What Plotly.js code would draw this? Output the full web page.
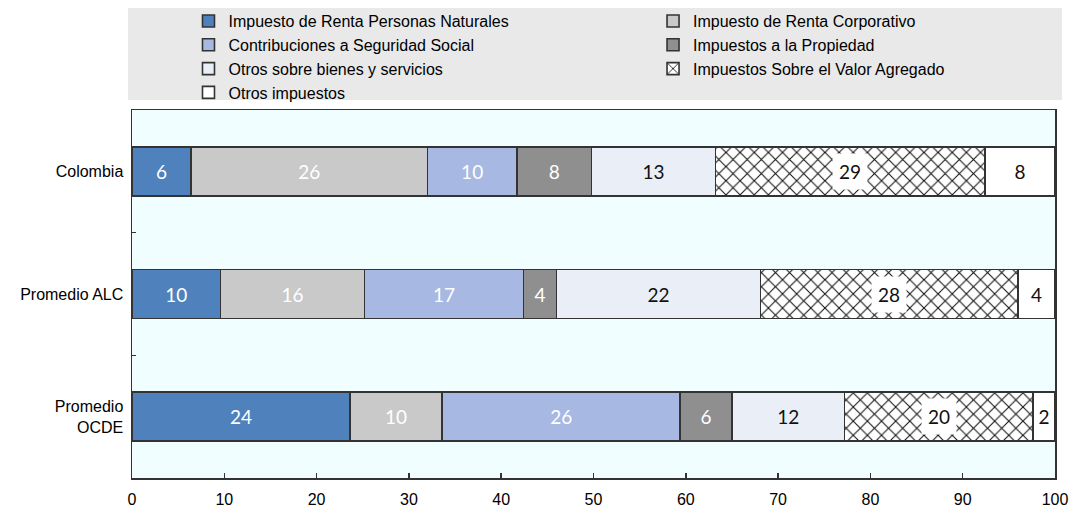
<!DOCTYPE html>
<html>
<head>
<meta charset="utf-8">
<script src="https://cdn.plot.ly/plotly-3.0.1.min.js"></script>
<style>
  html, body { margin: 0; padding: 0; background: #ffffff; }
  #chart { width: 1069px; height: 508px; }
</style>
</head>
<body>
<div id="chart"></div>
<script>
// ---- Data (share of total tax revenue, %) ----
const categories = ['Colombia', 'Promedio ALC', 'Promedio<br>OCDE'];
const seriesNames = [
  'Impuesto de Renta Personas Naturales',
  'Impuesto de Renta Corporativo',
  'Contribuciones a Seguridad Social',
  'Impuestos a la Propiedad',
  'Otros sobre bienes y servicios',
  'Impuestos Sobre el Valor Agregado',
  'Otros impuestos'
];
const rentaPersonas   = [6.4, 9.6, 23.6];
const rentaCorp       = [25.6, 15.6, 10.0];
const seguridadSocial = [9.7, 17.2, 25.8];
const propiedad       = [8.1, 3.6, 5.6];
const otrosBienes     = [13.4, 22.1, 12.2];
const iva             = [29.2, 27.9, 20.4];
const otrosImpuestos  = [7.6, 4.0, 2.4];
const xTicks = [0, 10, 20, 30, 40, 50, 60, 70, 80, 90, 100];

const allSeries = [rentaPersonas, rentaCorp, seguridadSocial, propiedad, otrosBienes, iva, otrosImpuestos];

// ---- Styles ----
const colors = ['#4f81bd', '#c9c9c9', '#a7b8e2', '#8f8f8f', '#eaeef7', '#ffffff', '#ffffff'];
const textColors = ['#ffffff', '#ffffff', '#ffffff', '#ffffff', '#111111', '#111111', '#111111'];
const legendOf = ['legend', 'legend2', 'legend', 'legend2', 'legend', 'legend2', 'legend'];
const baseFont = 'Liberation Sans, Arial, sans-serif';
const labelFont = 'Lato, Open Sans, sans-serif';

const traces = allSeries.map((vals, i) => {
  const isVat = (i === 5);
  const t = {
    type: 'bar',
    orientation: 'h',
    name: seriesNames[i],
    y: categories,
    x: vals,
    legend: legendOf[i],
    marker: {
      color: colors[i],
      line: { color: '#333333', width: 1.6 }
    },
    hoverinfo: 'x+name',
    cliponaxis: false
  };
  if (isVat) {
    t.marker.pattern = { shape: 'x', fgcolor: '#111111', bgcolor: '#ffffff', size: 10, solidity: 0.2 };
    t.textposition = 'none';
  } else {
    t.texttemplate = '%{x:.0f}';
    t.textposition = 'inside';
    t.insidetextanchor = 'middle';
    t.textangle = 0;
    t.textfont = { family: labelFont, size: 19, color: textColors[i] };
  }
  return t;
});

// Labels for the hatched series, with a white box behind them
const annotations = categories.map((cat, k) => {
  let start = 0;
  for (let s = 0; s < 5; s++) start += allSeries[s][k];
  return {
    x: start + iva[k] / 2,
    y: cat,
    xref: 'x',
    yref: 'y',
    text: String(Math.round(iva[k])),
    showarrow: false,
    bgcolor: '#ffffff',
    borderpad: 6,
    font: { family: labelFont, size: 19, color: '#111111' }
  };
});

const layout = {
  width: 1069,
  height: 508,
  margin: { l: 132, r: 14, t: 110, b: 30, autoexpand: false },
  paper_bgcolor: '#ffffff',
  plot_bgcolor: '#f0feff',
  barmode: 'stack',
  bargap: 0.6,
  font: { family: baseFont, size: 16, color: '#000000' },
  showlegend: true,
  legend: {
    x: 0.0612, xanchor: 'left',
    y: 1.2878, yanchor: 'top',
    bgcolor: 'rgba(0,0,0,0)',
    traceorder: 'normal',
    font: { family: baseFont, size: 16, color: '#000000' }
  },
  legend2: {
    x: 0.5645, xanchor: 'left',
    y: 1.2878, yanchor: 'top',
    bgcolor: 'rgba(0,0,0,0)',
    traceorder: 'normal',
    font: { family: baseFont, size: 16, color: '#000000' }
  },
  shapes: [{
    type: 'rect', xref: 'paper', yref: 'paper',
    x0: -0.0043, x1: 1.0076, y0: 1.0272, y1: 1.2772,
    fillcolor: '#e9e9e9', line: { width: 0 }, layer: 'below'
  }],
  xaxis: {
    range: [0, 100],
    tickvals: xTicks,
    ticktext: xTicks.map(String),
    ticks: 'inside',
    ticklen: 5,
    tickwidth: 1.5,
    tickcolor: '#333333',
    showline: true,
    mirror: true,
    linecolor: '#333333',
    linewidth: 1.5,
    showgrid: false,
    zeroline: false,
    ticklabelstandoff: 6,
    tickfont: { family: baseFont, size: 16, color: '#000000' },
    fixedrange: true
  },
  yaxis: {
    type: 'category',
    autorange: 'reversed',
    ticks: 'inside',
    tickson: 'boundaries',
    ticklen: 4,
    tickwidth: 1.5,
    tickcolor: '#333333',
    showline: true,
    mirror: true,
    linecolor: '#333333',
    linewidth: 1.5,
    showgrid: false,
    zeroline: false,
    ticklabelstandoff: 4,
    tickfont: { family: baseFont, size: 16, color: '#000000' },
    fixedrange: true
  },
  annotations: annotations
};

Plotly.newPlot('chart', traces, layout, { displayModeBar: false, staticPlot: true });
</script>
</body>
</html>
